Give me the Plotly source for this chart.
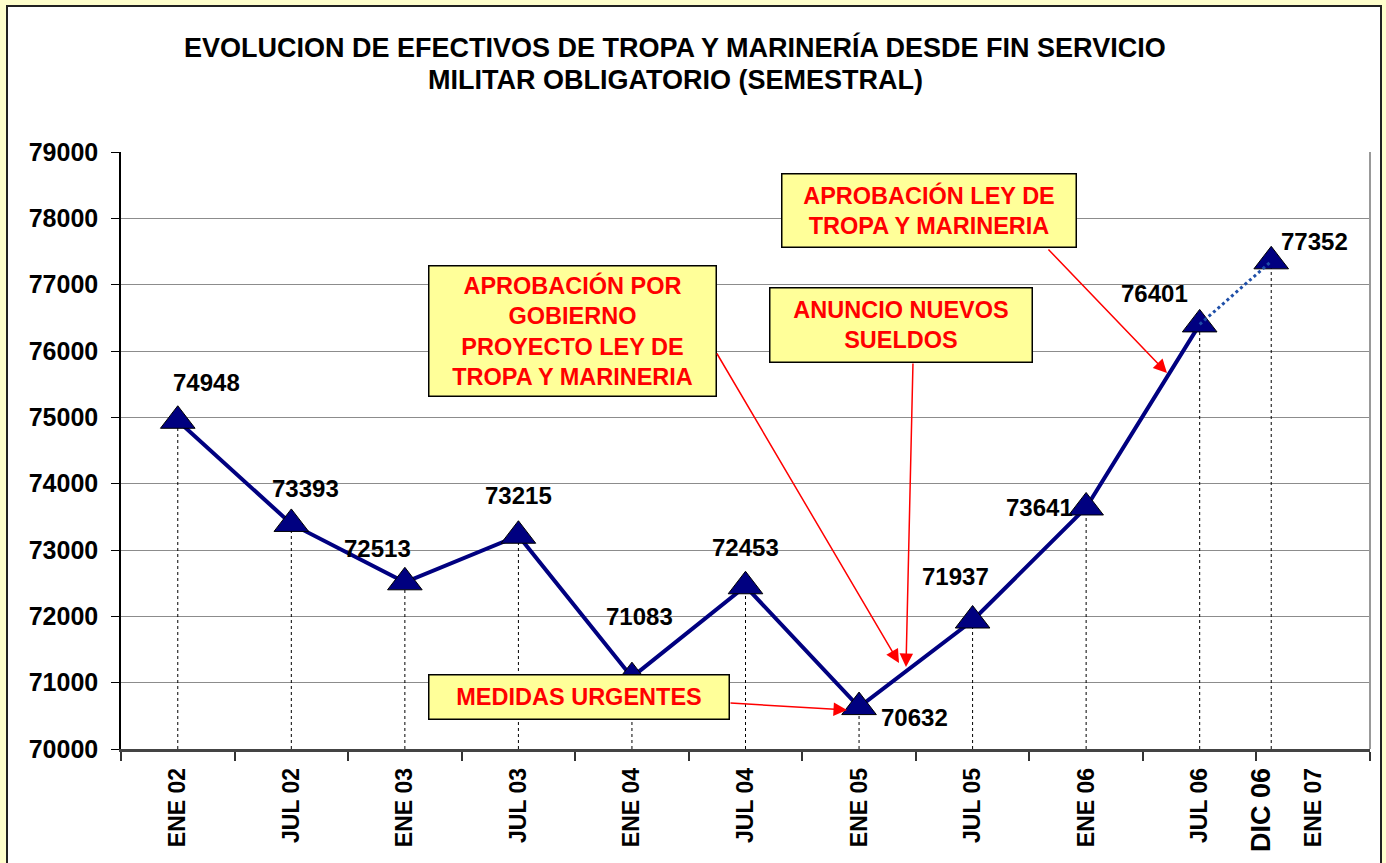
"""Evolucion de efectivos de tropa y marineria (semestral) with Plotly."""

import plotly.graph_objects as go

# category labels and data
CATEGORIES = ["ENE 02", "JUL 02", "ENE 03", "JUL 03", "ENE 04", "JUL 04",
              "ENE 05", "JUL 05", "ENE 06", "JUL 06", "ENE 07"]
SEMESTER_VALUES = [74948, 73393, 72513, 73215, 71083, 72453,
                   70632, 71937, 73641, 76401]
DIC06_LABEL = "DIC 06"
DIC06_POS = 9.63
DIC06_VALUE = 77352

Y_MIN, Y_MAX = 70000, 79000

FONT = "Liberation Sans, Arial, sans-serif"
NAVY = "#000080"
RED = "#FF0000"
BOX_FILL = "#FFFF99"

# plot area in pixels (for placing boxes and labels)
L, R, T, B = 121, 1370, 152, 749


def px(x):
    return (x - L) / (R - L)


def py(y):
    return (B - y) / (B - T)


x_idx = list(range(len(SEMESTER_VALUES)))
all_x = x_idx + [DIC06_POS]
all_y = SEMESTER_VALUES + [DIC06_VALUE]

fig = go.Figure()

# dotted drop lines
drop_x, drop_y = [], []
for xv, yv in zip(all_x, all_y):
    drop_x += [xv, xv, None]
    drop_y += [Y_MIN, yv, None]
fig.add_trace(go.Scatter(
    x=drop_x, y=drop_y, mode="lines",
    line={"color": "#000000", "width": 1, "dash": "dot"},
    hoverinfo="skip", showlegend=False,
))

marker_style = {"symbol": "triangle-up", "size": 30, "color": NAVY,
                "line": {"color": "#000000", "width": 1}}
fig.add_trace(go.Scatter(
    x=x_idx, y=SEMESTER_VALUES, mode="lines+markers",
    line={"color": NAVY, "width": 4},
    marker=marker_style, showlegend=False,
))
fig.add_trace(go.Scatter(
    x=[DIC06_POS], y=[DIC06_VALUE], mode="markers",
    marker=marker_style, showlegend=False,
))
fig.add_trace(go.Scatter(
    x=[x_idx[-1], DIC06_POS], y=[SEMESTER_VALUES[-1], DIC06_VALUE],
    mode="lines", line={"color": "#1F4FA8", "width": 3, "dash": "dot"},
    showlegend=False,
))

annotations = []

# data labels (offsets in px relative to the point)
label_offsets = [(29, 38), (14, 35), (-27, 34), (0, 40), (8, 61), (0, 39),
                 (55, -10), (-17, 44), (-47, 0), (-45, 31), (43, 20)]
for xv, yv, (dx, dy) in zip(all_x, all_y, label_offsets):
    annotations.append(dict(
        x=xv, y=yv, xref="x", yref="y", text=f"<b>{yv}</b>",
        showarrow=False, xshift=dx, yshift=dy,
        font={"family": FONT, "size": 24, "color": "#000000"},
    ))

# title (two lines)
for text, yc in [("EVOLUCION DE EFECTIVOS DE TROPA Y MARINERÍA DESDE FIN SERVICIO", 47),
                 ("MILITAR OBLIGATORIO (SEMESTRAL)", 80)]:
    annotations.append(dict(
        x=px(675), y=py(yc), xref="paper", yref="paper", text=f"<b>{text}</b>",
        showarrow=False, xanchor="center", yanchor="middle",
        font={"family": FONT, "size": 27, "color": "#000000"},
    ))

# yellow note boxes
boxes = [
    ("APROBACIÓN POR<br>GOBIERNO<br>PROYECTO LEY DE<br>TROPA Y MARINERIA", 428, 716, 265, 396),
    ("ANUNCIO NUEVOS<br>SUELDOS", 769, 1032, 287, 362),
    ("APROBACIÓN LEY DE<br>TROPA Y MARINERIA", 781, 1076, 174, 248),
    ("MEDIDAS URGENTES", 428, 729, 674, 719),
]
for text, x0, x1, y0, y1 in boxes:
    annotations.append(dict(
        x=px((x0 + x1) / 2), y=py((y0 + y1) / 2), xref="paper", yref="paper",
        text=f"<b>{text}</b>", showarrow=False, xanchor="center", yanchor="middle",
        width=x1 - x0 - 2, height=y1 - y0 - 2, borderpad=0,
        bgcolor=BOX_FILL, bordercolor="#000000", borderwidth=1.5,
        font={"family": FONT, "size": 23.5, "color": RED},
    ))

# red arrows: (tail, tip) in px
arrows = [((716, 352), (899, 663)),
          ((913, 362), (906, 667)),
          ((1047, 248), (1167, 373)),
          ((729, 703), (847, 710))]
for (tx, ty), (hx, hy) in arrows:
    annotations.append(dict(
        x=px(hx), y=py(hy), xref="paper", yref="paper", text="",
        showarrow=True, ax=tx - hx, ay=ty - hy,
        arrowhead=2, arrowsize=1.8, arrowwidth=1.5, arrowcolor=RED,
        standoff=0,
    ))

shapes = [
    # chart area frame
    dict(type="rect", xref="paper", yref="paper", layer="below",
         x0=px(7), x1=px(1381), y0=py(6), y1=py(900),
         fillcolor="#FFFFFF", line={"color": "#222222", "width": 2}),
    # right border of plot area
    dict(type="line", xref="paper", yref="paper", x0=1, x1=1, y0=0, y1=1,
         line={"color": "#999999", "width": 2}),
]

tickvals = x_idx + [len(SEMESTER_VALUES), DIC06_POS - 0.08]
ticktext = [f"<b>{c}</b>" for c in CATEGORIES] + [
    f"<b><span style='font-size:27px'>{DIC06_LABEL}</span></b>"]

fig.update_layout(
    width=1386,
    height=863,
    margin={"l": L, "r": 1386 - R, "t": T, "b": 863 - B},
    paper_bgcolor="#FFFFCC",
    plot_bgcolor="rgba(0,0,0,0)",
    showlegend=False,
    annotations=annotations,
    shapes=shapes,
    xaxis=dict(
        range=[-0.5, len(CATEGORIES) - 0.5], automargin=False,
        tickmode="array", tickvals=tickvals, ticktext=ticktext,
        tickangle=-90, ticks="", ticklabelstandoff=7,
        tickfont={"family": FONT, "size": 23, "color": "#000000"},
        minor=dict(tickmode="array",
                   tickvals=[i - 0.5 for i in range(len(CATEGORIES) + 1)],
                   ticks="outside", ticklen=9, tickcolor="#333333", tickwidth=1.5,
                   showgrid=False),
        showgrid=False, zeroline=False,
        showline=True, linecolor="#444444", linewidth=2.5,
    ),
    yaxis=dict(
        range=[Y_MIN, Y_MAX], dtick=1000, tick0=Y_MIN, automargin=False,
        ticks="outside", ticklen=8, tickcolor="#000000", tickwidth=1,
        ticklabelstandoff=8,
        tickfont={"family": FONT, "size": 25, "color": "#000000"},
        tickformat="d", tickprefix="<b>", ticksuffix="</b>",
        showgrid=True, gridcolor="#8C8C8C", gridwidth=1,
        zeroline=False, showline=True, linecolor="#000000", linewidth=1.5,
    ),
)

# drop the browser's default 8px body margin so the figure sits at 0,0
fig.write_html(
    "out.html",
    config={"displayModeBar": False},
    post_script="document.body.style.margin='0';"
                "document.body.style.background='#FFFFCC';",
)
